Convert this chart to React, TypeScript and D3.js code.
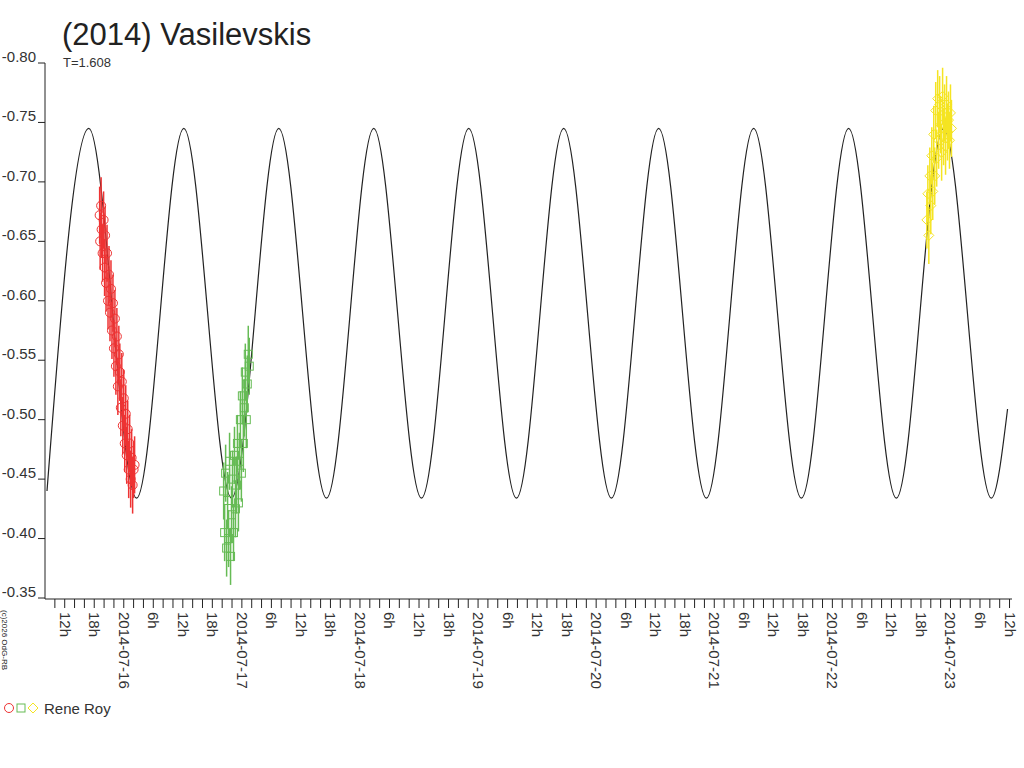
import * as d3 from 'd3';

// hours relative to 2014-07-16 00:00 UT
const modelTimes = [-15.6, -7.1, 2.6, 12.2, 21.9, 31.5, 41.2, 50.8, 60.5, 70.1, 79.8, 89.4, 99.1, 108.7, 118.4, 128.0, 137.7, 147.3, 157.0, 166.6, 176.3, 179.6];
const modelValues = [-0.440, -0.745, -0.434, -0.745, -0.434, -0.745, -0.434, -0.745, -0.434, -0.745, -0.434, -0.745, -0.434, -0.745, -0.434, -0.745, -0.434, -0.745, -0.434, -0.745, -0.434, -0.509];

const redTimes = [-4.9, -4.8, -4.6, -4.5, -4.3, -4.1, -3.9, -3.8, -3.6, -3.4, -3.2, -3.0, -2.8, -2.6, -2.4, -2.2, -2.0, -1.8, -1.6, -1.4, -1.2, -1.0, -0.8, -0.6, -0.4, -0.2, 0.0, 0.2, 0.4, 0.6, 0.8, 1.0, 1.2, 1.4, 1.6, 1.8, 2.0, 2.2];
const redValues = [-0.672, -0.650, -0.680, -0.660, -0.640, -0.668, -0.628, -0.655, -0.615, -0.640, -0.600, -0.622, -0.590, -0.610, -0.575, -0.598, -0.560, -0.585, -0.545, -0.570, -0.528, -0.555, -0.540, -0.510, -0.532, -0.495, -0.518, -0.480, -0.505, -0.470, -0.492, -0.458, -0.480, -0.450, -0.468, -0.445, -0.458, -0.462];
const greenTimes = [20.3, 20.5, 20.7, 20.9, 21.1, 21.3, 21.5, 21.7, 21.9, 22.1, 22.3, 22.5, 22.7, 22.9, 23.1, 23.3, 23.5, 23.7, 23.9, 24.1, 24.3, 24.5, 24.7, 24.9, 25.1, 25.3, 25.5];
const greenValues = [-0.440, -0.405, -0.455, -0.392, -0.432, -0.400, -0.465, -0.385, -0.420, -0.450, -0.405, -0.470, -0.425, -0.445, -0.480, -0.430, -0.465, -0.500, -0.455, -0.520, -0.480, -0.510, -0.540, -0.500, -0.530, -0.555, -0.545];
const yellowTimes = [163.2, 163.4, 163.6, 163.8, 164.0, 164.2, 164.4, 164.6, 164.8, 165.0, 165.2, 165.4, 165.6, 165.8, 166.0, 166.2, 166.4, 166.6, 166.8, 167.0, 167.2, 167.4, 167.6, 167.8, 168.0, 168.2];
const yellowValues = [-0.668, -0.690, -0.655, -0.705, -0.680, -0.722, -0.692, -0.740, -0.705, -0.760, -0.720, -0.770, -0.735, -0.765, -0.748, -0.725, -0.772, -0.738, -0.758, -0.730, -0.765, -0.742, -0.752, -0.735, -0.758, -0.745];

const yTicks = [-0.80, -0.75, -0.70, -0.65, -0.60, -0.55, -0.50, -0.45, -0.40, -0.35];
const dateLabels = ['2014-07-15', '2014-07-16', '2014-07-17', '2014-07-18', '2014-07-19', '2014-07-20', '2014-07-21', '2014-07-22', '2014-07-23', '2014-07-24'];

const font = '"Liberation Sans", Arial, sans-serif';

export default function App() {
  const x = d3.scaleLinear().domain([-15.6, 180.3]).range([47, 1011]);
  const y = d3.scaleLinear().domain([-0.80, -0.35]).range([63, 598]);
  const line = d3.line<number>().x((_, i) => x(modelTimes[i])).y(d => y(d)).curve(d3.curveMonotoneX);

  const ticks = d3.range(-14, 181, 2);
  const err = 0.024;

  return (
    <svg width={1024} height={768} style={{ position: 'absolute', left: 0, top: 0, background: '#fff' }}>
      <text x={62} y={45} fontFamily={font} fontSize={31} fill="#222">(2014) Vasilevskis</text>
      <text x={63} y={67} fontFamily={font} fontSize={13} fill="#333">T=1.608</text>

      <line x1={45} x2={45} y1={63} y2={599} stroke="#222" />
      <line x1={45} x2={1012} y1={599} y2={599} stroke="#222" />
      {yTicks.map(t => (
        <g key={t}>
          <line x1={38} x2={45} y1={y(t)} y2={y(t)} stroke="#222" />
          <text x={36} y={y(t) - 1} textAnchor="end" fontFamily={font} fontSize={15} fill="#333">{t.toFixed(2)}</text>
        </g>
      ))}
      {ticks.map(h => {
        const hr = ((h % 24) + 24) % 24;
        const label = hr % 6 !== 0 ? null : hr === 0 ? dateLabels[Math.floor(h / 24) + 1] : `${hr}h`;
        return (
          <g key={h}>
            <line x1={x(h)} x2={x(h)} y1={599} y2={608} stroke="#222" />
            {label && (
              <text transform={`translate(${x(h) - 5},612) rotate(90)`} fontFamily={font} fontSize={15} fill="#333">{label}</text>
            )}
          </g>
        );
      })}
      <text transform="translate(2,610) rotate(90)" fontFamily={font} fontSize={8} fill="#222">(c)2026 OdG-RB</text>

      <path d={line(modelValues) ?? ''} fill="none" stroke="#222" strokeWidth={1.2} />

      <g stroke="#ee3333" fill="none">
        {redValues.map((v, i) => (
          <g key={i}>
            <line x1={x(redTimes[i])} x2={x(redTimes[i])} y1={y(v - err)} y2={y(v + err)} strokeWidth={1.5} />
            <circle cx={x(redTimes[i])} cy={y(v)} r={4.5} />
          </g>
        ))}
      </g>
      <g stroke="#66bb55" fill="none">
        {greenValues.map((v, i) => (
          <g key={i}>
            <line x1={x(greenTimes[i])} x2={x(greenTimes[i])} y1={y(v - err)} y2={y(v + err)} strokeWidth={1.5} />
            <rect x={x(greenTimes[i]) - 4} y={y(v) - 4} width={8} height={8} />
          </g>
        ))}
      </g>
      <g stroke="#f5e422" fill="none">
        {yellowValues.map((v, i) => (
          <g key={i}>
            <line x1={x(yellowTimes[i])} x2={x(yellowTimes[i])} y1={y(v - err)} y2={y(v + err)} strokeWidth={1.5} />
            <path d={`M${x(yellowTimes[i])},${y(v) - 5}l5,5l-5,5l-5,-5z`} />
          </g>
        ))}
      </g>

      <circle cx={9} cy={708} r={4.5} stroke="#ee3333" fill="none" />
      <rect x={17} y={704} width={8} height={8} stroke="#66bb55" fill="none" />
      <path d="M33,703l5,5l-5,5l-5,-5z" stroke="#f5e422" fill="none" />
      <text x={44} y={714} fontFamily={font} fontSize={15} fill="#333">Rene Roy</text>
    </svg>
  );
}
